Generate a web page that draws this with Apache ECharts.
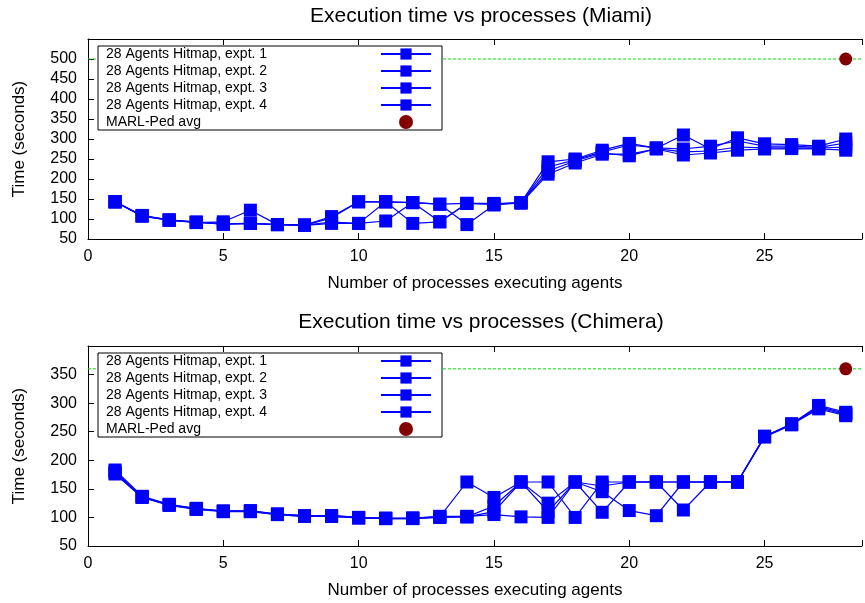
<!DOCTYPE html>
<html><head><meta charset="utf-8">
<script src="https://cdn.jsdelivr.net/npm/echarts@6/dist/echarts.min.js"></script>
<style>html,body{margin:0;padding:0;background:#fff}#c{width:865px;height:603px}</style>
</head><body><div id="c"></div>
<script>
const processes = [1,2,3,4,5,6,7,8,9,10,11,12,13,14,15,16,17,18,19,20,21,22,23,24,25,26,27,28];
const seriesNames = ['28 Agents Hitmap, expt. 1','28 Agents Hitmap, expt. 2','28 Agents Hitmap, expt. 3','28 Agents Hitmap, expt. 4'];
const marlName = 'MARL-Ped avg';
const titleMiami = 'Execution time vs processes (Miami)';
const titleChimera = 'Execution time vs processes (Chimera)';
const xName = 'Number of processes executing agents';
const yName = 'Time (seconds)';

const miami1 = [143,108,97,92,88,89,86,85,106,143,143,141,137,139,137,141,243,250,272,289,277,310,275,303,288,286,282,300];
const miami2 = [143,107,97,91,93,122,86,85,92,89,143,89,93,139,137,141,230,248,268,285,278,275,282,295,282,282,279,290];
const miami3 = [143,109,98,92,87,89,86,84,103,143,143,141,93,139,139,140,220,245,265,258,276,268,270,280,278,278,277,280];
const miami4 = [143,108,97,92,87,89,86,84,89,89,95,141,137,86,135,140,212,240,262,262,275,260,265,272,275,276,275,272];
const marlMiami = 500;

const chimera1 = [183,137,123,116,111,111,106,103,103,100,98,99,101,162,135,162,162,100,162,162,162,113,162,162,242,264,296,284];
const chimera2 = [178,136,122,115,111,111,105,102,102,99,98,98,100,101,120,162,110,162,145,112,103,162,162,162,241,263,294,282];
const chimera3 = [176,135,121,114,110,110,105,102,102,99,98,98,101,101,110,162,125,162,109,162,162,162,162,162,241,262,292,280];
const chimera4 = [180,136,122,115,111,112,106,103,103,100,99,99,102,102,105,101,100,162,155,162,162,162,162,162,242,263,290,278];
const marlChimera = 360;

const xMin = 0, xMax = 28.6;

const FONT = '"Liberation Sans", Arial, Helvetica, sans-serif';
const BLUE = '#0000ff';

function pairs(arr){ return processes.map((x,i)=>[x, arr[i]]); }

function lineSeries(name, arr, idx){
  return {
    type:'line', name:name, xAxisIndex: idx*2, yAxisIndex: idx,
    data: pairs(arr), symbol:'rect', symbolSize:13,
    lineStyle:{color:BLUE, width:1.2, opacity:1}, itemStyle:{color:BLUE, opacity:1},
    emphasis:{disabled:true}, silent:true, clip:false, z:3
  };
}
function refLine(val, idx){
  return {
    type:'line', name:'ref-' + idx, xAxisIndex: idx*2, yAxisIndex: idx,
    data:[[xMin, val],[xMax, val]], symbol:'none', silent:true,
    lineStyle:{color:'#00e000', type:[3,2], width:1, opacity:1},
    emphasis:{disabled:true}, z:1
  };
}
function marlSeries(val, idx){
  return {
    type:'scatter', name:marlName, xAxisIndex: idx*2, yAxisIndex: idx,
    data:[[28, val]], symbol:'circle', symbolSize:13,
    itemStyle:{color:'#840000', opacity:1}, emphasis:{disabled:true}, silent:true, z:4
  };
}
function xAxes(gi){
  return [{
    type:'value', gridIndex:gi, position:'bottom', min:xMin, max:xMax, interval:5,
    axisLine:{show:true, lineStyle:{color:'#000', width:1}},
    axisTick:{show:true, inside:true, length:6, lineStyle:{color:'#000'}},
    axisLabel:{color:'#000', fontSize:16, fontFamily:FONT, margin:10,
      formatter:v => (Math.abs(v % 5) < 1e-9 ? String(v) : '')},
    splitLine:{show:false},
    name:xName, nameLocation:'middle', nameGap:36,
    nameTextStyle:{color:'#000', fontSize:17, fontFamily:FONT}
  },{
    type:'value', gridIndex:gi, position:'top', min:xMin, max:xMax, interval:5,
    axisLine:{show:true, lineStyle:{color:'#000', width:1}},
    axisTick:{show:true, inside:true, length:6, lineStyle:{color:'#000'}},
    axisLabel:{show:false}, splitLine:{show:false}
  }];
}
function yAxis(gi, maxV, hideV){
  return {
    type:'value', gridIndex:gi, min:50, max:maxV, interval:50,
    axisLine:{show:true, lineStyle:{color:'#000', width:1}},
    axisTick:{show:true, inside:true, length:6, lineStyle:{color:'#000'}},
    axisLabel:{color:'#000', fontSize:16, fontFamily:FONT, margin:11,
      formatter:v => (v === hideV ? '' : String(v))},
    splitLine:{show:false},
    name:yName, nameLocation:'middle', nameGap:60,
    nameTextStyle:{color:'#000', fontSize:17, fontFamily:FONT}
  };
}
function legend(top){
  return {
    orient:'vertical', left:98, top:top, align:'right',
    itemWidth:50, itemHeight:14, itemGap:3,
    padding:[1,10,1,8], borderColor:'#000', borderWidth:1, backgroundColor:'#fff',
    selectedMode:false, z:10,
    data: seriesNames.concat([marlName]),
    formatter: n => '{t|' + n + '}',
    textStyle:{rich:{t:{width:270, align:'left', lineHeight:14, fontSize:14, fontFamily:FONT, color:'#000'}}}
  };
}

const option = {
  animation:false,
  backgroundColor:'#fff',
  title:[
    {text:titleMiami, left:481, top:6, textAlign:'center', padding:0,
     textStyle:{fontSize:21, fontWeight:'normal', fontFamily:FONT, color:'#000'}},
    {text:titleChimera, left:481, top:312, textAlign:'center', padding:0,
     textStyle:{fontSize:21, fontWeight:'normal', fontFamily:FONT, color:'#000'}}
  ],
  grid:[
    {left:88, top:39, width:778, height:200},
    {left:88, top:346, width:778, height:200}
  ],
  xAxis: xAxes(0).concat(xAxes(1)),
  yAxis: [yAxis(0, 550, 550), yAxis(1, 400, 400)],
  legend:[legend(46), legend(353)],
  series:[
    refLine(marlMiami, 0),
    lineSeries(seriesNames[0], miami1, 0),
    lineSeries(seriesNames[1], miami2, 0),
    lineSeries(seriesNames[2], miami3, 0),
    lineSeries(seriesNames[3], miami4, 0),
    marlSeries(marlMiami, 0),
    refLine(marlChimera, 1),
    lineSeries(seriesNames[0], chimera1, 1),
    lineSeries(seriesNames[1], chimera2, 1),
    lineSeries(seriesNames[2], chimera3, 1),
    lineSeries(seriesNames[3], chimera4, 1),
    marlSeries(marlChimera, 1)
  ]
};
const chart = echarts.init(document.getElementById('c'), null, {renderer:'canvas'});
chart.setOption(option);
</script>
</body></html>
